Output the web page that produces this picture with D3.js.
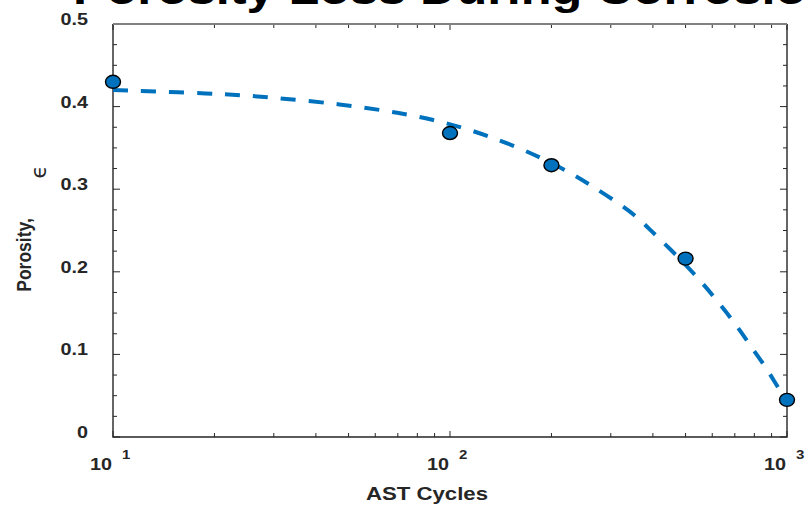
<!DOCTYPE html>
<html lang="en">
<head>
<meta charset="utf-8" />
<title>Porosity Loss During Corrosion</title>
<script src="https://d3js.org/d3.v7.min.js"></script>
<style>
  body { margin: 0; background: #fff; }
  svg { display: block; font-family: "Liberation Sans", Arial, sans-serif; }
</style>
</head>
<body>
<svg width="805" height="508"></svg>
<script>
  // measured points
  let cycles = [10, 100, 200, 500, 1000];
  let porosity = [0.430, 0.368, 0.329, 0.216, 0.045];

  // dashed fit curve
  let fitCycles = [10, 20, 28, 48, 72, 89, 107, 154, 212, 255, 349, 394, 452, 512, 571, 640, 712, 786, 871, 949, 1000];
  let fitPorosity = [0.420, 0.416, 0.412, 0.403, 0.392, 0.384, 0.376, 0.354, 0.327, 0.308, 0.272, 0.250, 0.227, 0.204, 0.183, 0.158, 0.134, 0.108, 0.083, 0.057, 0.045];

  let yTicks = [0, 0.1, 0.2, 0.3, 0.4, 0.5];
  let yTickLabels = ["0", "0.1", "0.2", "0.3", "0.4", "0.5"];
  let xDecades = [10, 100, 1000];
  let xExponents = ["1", "2", "3"];

  let svg = d3.select("svg");
  let plotL = 113, plotR = 787, plotT = 24, plotB = 437;
  let sx = 1.2; // glyphs in the picture are drawn a little wide

  let x = d3.scaleLog().domain([10, 1000]).range([plotL, plotR]);
  let y = d3.scaleLinear().domain([0, 0.5]).range([plotB, plotT]);

  // title, mostly cut off above the frame
  svg.append("text")
    .attr("transform", "translate(455,4) scale(" + sx + ",1)")
    .attr("text-anchor", "middle")
    .style("font-weight", "bold")
    .style("font-size", "42px")
    .text("Porosity Loss During Corrosion");

  // ticks
  let minorY = d3.range(0, 0.5001, 0.025);
  let minorX = [];
  [10, 100].forEach(d => { for (let k = 1; k < 10; k++) minorX.push(d * k); });
  minorX.push(1000);

  let tg = svg.append("g").attr("stroke", "#262626").attr("stroke-width", 1);
  minorY.forEach(v => {
    let major = Math.abs(v * 10 - Math.round(v * 10)) < 1e-6;
    let len = major ? 7 : 4;
    tg.append("line").attr("x1", plotL).attr("x2", plotL + len).attr("y1", y(v)).attr("y2", y(v));
    tg.append("line").attr("x1", plotR).attr("x2", plotR - len).attr("y1", y(v)).attr("y2", y(v));
  });
  minorX.forEach(v => {
    let major = xDecades.includes(v);
    let len = major ? 6 : 4;
    tg.append("line").attr("x1", x(v)).attr("x2", x(v)).attr("y1", plotB).attr("y2", plotB - len);
    tg.append("line").attr("x1", x(v)).attr("x2", x(v)).attr("y1", plotT).attr("y2", plotT + len);
  });

  // box
  svg.append("path")
    .attr("d", `M${plotL},${plotT}V${plotB}H${plotR}V${plotT}`)
    .attr("fill", "none").attr("stroke", "#262626").attr("stroke-width", 1.4);
  svg.append("line")
    .attr("x1", plotL).attr("x2", plotR).attr("y1", plotT).attr("y2", plotT)
    .attr("stroke", "#808080").attr("stroke-width", 2);

  // y tick labels
  svg.append("g").selectAll("text").data(yTicks).join("text")
    .attr("transform", (d) => "translate(88," + (y(d) + 1) + ") scale(" + sx + ",1)")
    .attr("text-anchor", "end")
    .attr("fill", "#262626")
    .style("font-weight", "bold")
    .style("font-size", "16.5px")
    .text((d, i) => yTickLabels[i]);

  // x tick labels: 10 with exponent
  let xl = svg.append("g").attr("fill", "#262626").style("font-weight", "bold");
  xDecades.forEach((d, i) => {
    xl.append("text")
      .attr("transform", "translate(" + (x(d) - 1) + ",470) scale(" + sx + ",1)")
      .attr("text-anchor", "end")
      .style("font-size", "16.5px")
      .text("10");
    xl.append("text")
      .attr("transform", "translate(" + (x(d) + 9) + ",459) scale(" + sx + ",1)")
      .style("font-size", "12.5px")
      .text(xExponents[i]);
  });

  // axis labels
  svg.append("text")
    .attr("transform", "translate(427,500) scale(" + sx + ",1)")
    .attr("text-anchor", "middle")
    .attr("fill", "#262626")
    .style("font-weight", "bold")
    .style("font-size", "18.5px")
    .text("AST Cycles");

  svg.append("text")
    .attr("transform", "translate(31,255) rotate(-90) scale(1," + sx + ")")
    .attr("text-anchor", "middle")
    .attr("fill", "#262626")
    .style("font-weight", "bold")
    .style("font-size", "17.5px")
    .text("Porosity,");
  svg.append("text")
    .attr("transform", "translate(39,172) rotate(-90)")
    .attr("text-anchor", "middle")
    .attr("dy", "0.3em")
    .attr("fill", "#262626")
    .style("font-family", "'DejaVu Sans', sans-serif")
    .style("font-size", "22px")
    .text("\u03F5");

  // fit curve
  let fit = fitCycles.map((c, i) => [c, fitPorosity[i]]);
  svg.append("path")
    .datum(fit)
    .attr("fill", "none")
    .attr("stroke", "#0072BD")
    .attr("stroke-width", 4)
    .attr("stroke-dasharray", "15,13")
    .attr("d", d3.line().x(d => x(d[0])).y(d => y(d[1])).curve(d3.curveBasis));

  // data markers
  svg.append("g").selectAll("ellipse").data(cycles).join("ellipse")
    .attr("cx", d => x(d))
    .attr("cy", (d, i) => y(porosity[i]))
    .attr("rx", 7.5)
    .attr("ry", 6.5)
    .attr("fill", "#0072BD")
    .attr("stroke", "#000")
    .attr("stroke-width", 1.4);
</script>
</body>
</html>
